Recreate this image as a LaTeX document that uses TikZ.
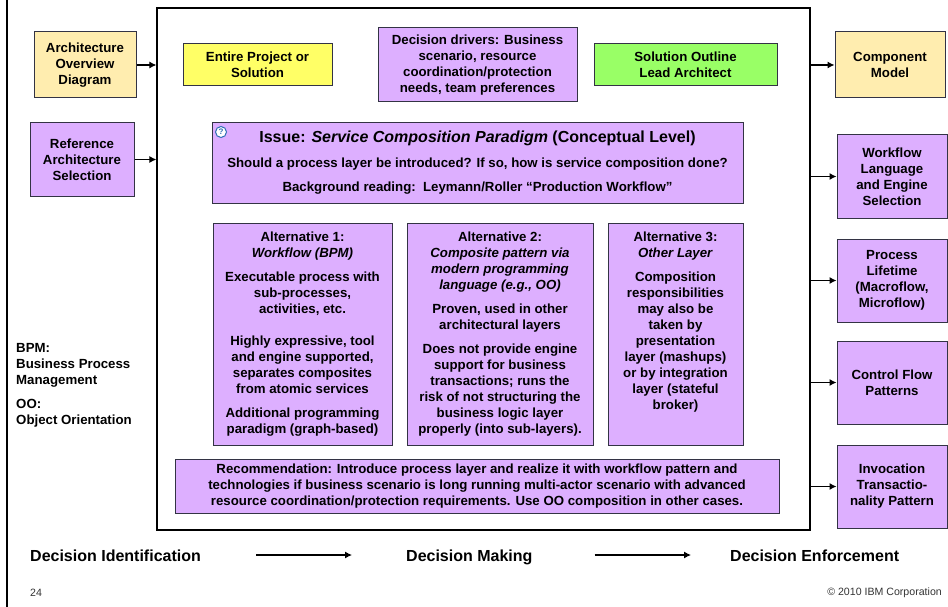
\documentclass[tikz,border=0pt]{standalone}
\usepackage{fontspec}
\usetikzlibrary{arrows.meta}
\setmainfont{Liberation Sans}
\definecolor{adinput}{HTML}{FFEDAF}
\definecolor{adpurple}{HTML}{DDAFFF}
\definecolor{adyellow}{HTML}{FFFF66}
\definecolor{adgreen}{HTML}{99FF66}
\definecolor{adborder}{HTML}{333344}
\definecolor{adicon}{HTML}{2E6DB4}

\begin{document}
\begin{tikzpicture}[
            x=1pt, y=-1pt,
            >={Latex[length=7pt,width=7pt]},
            box/.style={rectangle, draw=adborder, line width=1pt, inner sep=0pt, align=center,
                font=\fontsize{13.25}{16}\selectfont\bfseries},
            input/.style={box, fill=adinput},
            topic/.style={box, fill=adpurple},
            link/.style={->, line width=1.1pt},
            label/.style={font=\fontsize{16}{19}\selectfont\bfseries, inner sep=0pt, text height=12pt, text depth=0pt},
            small/.style={font=\fontsize{10.6}{12}\selectfont, text=black!80, inner sep=0pt}
        ]
            \useasboundingbox (0,0) rectangle (948,607);
            \draw[line width=2.4pt] (7,0) -- (7,607);

            % Frame
            \node[draw, line width=1.2pt, minimum width=653pt, minimum height=522pt, inner sep=0pt] (frame) at (483.5,269) {};

            % Inputs
            \node[input, minimum width=102pt, minimum height=66pt] (arch) at (85,65) {Architecture\\Overview\\Diagram};
            \node[topic, minimum width=104pt, minimum height=73pt] (ref) at (82,159.5) {Reference\\Architecture\\Selection};

            \draw[link] (arch.east) -- (arch.east -| frame.west);
            \draw[link] (ref.east) -- (ref.east -| frame.west);

            % Header
            \node[box, fill=adyellow, minimum width=149pt, minimum height=42pt] (entire) at (257.5,65) {Entire Project or\\Solution};
            \node[topic, minimum width=199pt, minimum height=74pt] (drivers) at (477.5,65) {Decision drivers: Business\\scenario, resource\\coordination/protection\\needs, team preferences};
            \node[box, fill=adgreen, minimum width=183pt, minimum height=42pt] (solution) at (685.5,65) {Solution Outline\\Lead Architect};

            % Issue
            \node[topic, minimum width=531pt, minimum height=80pt] (issue) at (477.5,163) {{\fontsize{16}{19}\selectfont Issue: \textit{Service Composition Paradigm} (Conceptual Level)}\\[9pt]
                Should a process layer be introduced? If so, how is service composition done?\\[8pt]
                Background reading:\ \ Leymann/Roller “Production Workflow”};
            \node[circle, draw=adicon, line width=1pt, fill=white, minimum size=11pt, inner sep=0pt, text=adicon, font=\fontsize{8}{8}\selectfont\bfseries] (help) at (221,132) {?};

            % Alternatives
            \node[topic, minimum width=179pt, minimum height=222pt] (alt1) at (302.5,334) {Alternative 1:\\\textit{Workflow (BPM)}\\[8pt]
                Executable process with\\sub-processes,\\activities, etc.\\[16pt]
                Highly expressive, tool\\and engine supported,\\separates composites\\from atomic services\\[8pt]
                Additional programming\\paradigm (graph-based)};
            \node[topic, minimum width=186pt, minimum height=222pt] (alt2) at (500,334) {Alternative 2:\\\textit{Composite pattern via}\\\textit{modern programming}\\\textit{language (e.g., OO)}\\[8pt]
                Proven, used in other\\architectural layers\\[8pt]
                Does not provide engine\\support for business\\transactions; runs the\\risk of not structuring the\\business logic layer\\properly (into sub-layers).};
            \node[topic, minimum width=135pt, minimum height=222pt] (alt3) at (675.5,334) {Alternative 3:\\\textit{Other Layer}\\[8pt]
                Composition\\responsibilities\\may also be\\taken by\\presentation\\layer (mashups)\\or by integration\\layer (stateful\\broker)\\[10pt]\mbox{}};

            % Recommendation
            \node[topic, minimum width=604pt, minimum height=54pt] (rec) at (477,486) {Recommendation: Introduce process layer and realize it with workflow pattern and\\technologies if business scenario is long running multi-actor scenario with advanced\\resource coordination/protection requirements. Use OO composition in other cases.};

            % Outputs
            \node[input, minimum width=110pt, minimum height=66pt] (comp) at (890,65) {Component\\Model};
            \node[topic, minimum width=110pt, minimum height=83pt] (wf) at (892,176.5) {Workflow\\Language\\and Engine\\Selection};
            \node[topic, minimum width=110pt, minimum height=83pt] (life) at (892,280.5) {Process\\Lifetime\\(Macroflow,\\Microflow)};
            \node[topic, minimum width=110pt, minimum height=83pt] (ctrl) at (892,382.5) {Control Flow\\Patterns};
            \node[topic, minimum width=110pt, minimum height=83pt] (inv) at (892,486.5) {Invocation\\Transactio-\\nality Pattern};

            \draw[link] (frame.east |- comp.west) -- (comp.west);
            \draw[link] (frame.east |- wf.west) -- (wf.west);
            \draw[link] (frame.east |- life.west) -- (life.west);
            \draw[link] (frame.east |- ctrl.west) -- (ctrl.west);
            \draw[link] (frame.east |- inv.west) -- (inv.west);

            % Glossary
            \node[anchor=north west, inner sep=0pt, align=left, font=\fontsize{13.25}{16}\selectfont\bfseries] (glossary) at (16,343) {BPM:\\Business Process\\Management\\[8pt]OO:\\Object Orientation};

            % Phases
            \node[label, anchor=west] (identify) at (30,555) {Decision Identification};
            \node[label, anchor=west] (making) at (406,555) {Decision Making};
            \node[label, anchor=west] (enforce) at (730,555) {Decision Enforcement};

            \draw[link, shorten <=55pt, shorten >=54pt] (identify) -- (making);
            \draw[link, shorten <=62pt, shorten >=39pt] (making) -- (enforce);

            \node[small, anchor=west] (page) at (30,592.5) {24};
            \node[small, anchor=east] (copy) at (942,593) {© 2010 IBM Corporation};
        \end{tikzpicture}
\end{document}
